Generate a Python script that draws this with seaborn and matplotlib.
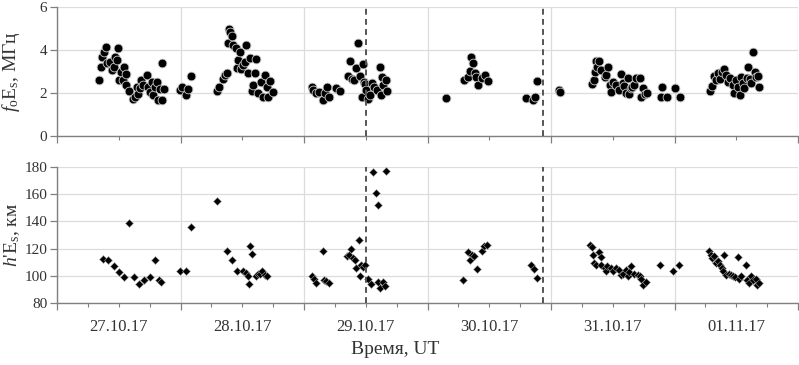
import matplotlib
matplotlib.use('Agg')
import matplotlib.pyplot as plt
import seaborn as sns
import pandas as pd
from matplotlib.ticker import FixedLocator, MultipleLocator

# ---------------- data (hours since 27.10.17 00 UT) ----------------
fo_hours = [8.2, 8.5, 8.8, 9.1, 9.5, 9.8, 10.3, 10.6, 11.1, 11.3, 11.6, 11.9, 12.1, 12.4, 12.9, 13.1,
            13.4, 13.5, 14.0, 14.7, 15.1, 15.5, 15.7, 16.1, 16.4, 16.8, 17.4, 17.7, 18.1, 18.4, 18.7,
            19.1, 19.5, 19.7, 20.0, 20.4, 20.5, 20.7, 23.9, 24.2, 25.0, 25.5, 26.0,
            31.0, 31.5, 32.2, 32.6, 33.1, 33.3, 33.5, 33.7, 34.0, 34.2, 34.7, 34.9, 35.2, 35.5, 35.8,
            36.2, 36.5, 36.7, 37.1, 37.5, 37.8, 38.1, 38.4, 38.6, 39.1, 39.7, 40.1, 40.4, 40.8, 41.0,
            41.4, 41.9,
            49.5, 49.8, 50.4, 50.9, 51.7, 52.0, 52.5, 52.9, 54.2, 55.0, 56.6, 57.0, 57.4, 57.8, 58.2,
            58.5, 58.8, 59.2, 59.4, 59.6, 59.8, 60.0, 60.4, 60.8, 61.3, 61.7, 62.2, 62.7, 63.0, 63.2,
            63.4, 63.9, 64.1,
            75.5, 79.0, 79.9, 80.2, 80.5, 80.8, 81.2, 81.5, 81.8, 82.5, 83.1, 83.7, 91.2, 92.5, 92.8,
            93.3, 97.5, 97.8,
            104.0, 104.3, 104.5, 104.7, 105.0, 105.3, 105.8, 106.4, 106.7, 107.0, 107.4, 107.6, 108.0,
            108.7, 109.2, 109.6, 109.9, 110.2, 110.6, 110.9, 111.2, 111.5, 111.8, 112.2, 112.6, 113.2,
            113.5, 113.8, 114.3, 114.6, 117.4, 117.6, 118.5, 120.0, 121.0,
            126.9, 127.3, 127.6, 128.0, 128.4, 128.8, 129.2, 129.7, 130.0, 130.3, 130.8, 131.3, 131.6,
            132.0, 132.3, 132.8, 133.0, 133.3, 133.6, 134.0, 134.2, 134.6, 134.9, 135.2, 135.6, 135.9,
            136.2, 136.5]
fo_values = [2.60, 3.20, 3.68, 3.92, 4.15, 3.38, 3.45, 3.05, 3.22, 3.68, 3.55, 4.08, 2.60, 3.00, 2.60, 3.22,
             2.90, 2.37, 2.10, 1.71, 1.83, 2.29, 1.95, 2.22, 2.60, 2.37, 2.84, 2.26, 2.06, 2.53, 1.93,
             2.29, 2.53, 1.67, 2.18, 1.67, 3.38, 2.20, 2.14, 2.30, 1.93, 2.18, 2.78,
             2.10, 2.26, 2.64, 2.84, 2.95, 4.34, 4.99, 4.82, 4.65, 4.23, 4.08, 3.15, 3.53, 3.92, 3.10,
             3.30, 3.45, 4.23, 2.95, 3.61, 2.10, 2.37, 2.92, 3.56, 1.99, 2.49, 1.81, 2.84, 2.30, 1.81,
             2.55, 2.06,
             2.26, 2.14, 2.00, 2.05, 1.67, 1.99, 2.26, 1.80, 2.22, 2.10, 2.78, 3.49, 2.64, 2.62, 3.15,
             4.31, 2.78, 1.80, 3.35, 2.53, 2.42, 2.14, 1.71, 1.93, 2.45, 2.26, 2.14, 3.22, 1.91, 2.76,
             2.37, 2.60, 2.10,
             1.79, 2.60, 2.73, 3.04, 3.67, 3.38, 2.95, 2.73, 2.37, 2.68, 2.84, 2.56, 1.79, 1.66, 1.82,
             2.56, 2.14, 2.05,
             2.43, 2.59, 2.98, 3.49, 3.20, 3.49, 3.05, 2.73, 2.84, 3.22, 2.37, 2.06, 2.53,
             2.37, 2.14, 2.88, 2.48, 2.33, 1.99, 2.68, 1.96, 2.22, 2.30, 2.37, 2.68, 2.71,
             1.82, 2.22, 1.96, 2.02, 1.82, 2.29, 1.82, 2.25, 1.82,
             2.10, 2.33, 2.79, 2.60, 2.92, 2.64, 2.99, 3.10, 2.84, 2.53, 2.68, 2.37, 1.99,
             2.60, 2.26, 1.91, 2.73, 2.45, 2.22, 2.70, 3.23, 2.66, 2.45, 3.91, 2.99, 2.73,
             2.78, 2.29]

h_hours = [9.0, 10.0, 11.0, 12.0, 13.0, 14.0, 15.0, 16.0, 17.0, 18.0, 19.0, 19.9, 20.3, 23.9, 25.0, 26.0,
           31.0, 33.0, 34.0, 34.9, 36.2, 36.7, 37.1, 37.3, 37.6, 37.9, 38.6, 39.0, 39.5, 39.9, 40.4, 40.8,
           49.5, 50.0, 50.4, 51.6, 51.8, 52.3, 52.8, 56.3, 56.8, 57.2, 57.5, 57.9, 58.2, 58.7, 58.8,
           59.1, 59.4, 59.8, 60.4, 61.0, 61.5, 61.9, 62.3, 62.3, 62.8, 63.4, 63.7, 63.9,
           78.9, 79.8, 80.2, 80.7, 81.1, 81.6, 82.6, 82.9, 83.6, 92.2, 92.6, 93.2,
           103.6, 104.0, 104.1, 104.3, 104.8, 105.4, 105.7, 105.7, 106.4, 106.6, 106.9, 107.7, 108.0,
           108.7, 109.3, 109.6, 109.9, 110.5, 110.9, 111.2, 111.6, 112.2, 112.9, 113.2, 113.5, 113.8,
           114.4, 117.1, 119.8, 120.8,
           126.7, 127.0, 127.3, 127.6, 128.0, 128.4, 128.9, 129.2, 129.5, 129.7, 130.1, 130.5, 130.9,
           131.3, 131.7, 132.3, 132.6, 133.0, 133.8, 134.0, 134.4, 134.9, 135.3, 135.8, 136.1, 136.5]
h_values = [112.3, 111.3, 106.9, 103.0, 99.1, 138.8, 99.1, 94.0, 97.1, 99.1, 111.8, 97.0, 95.2, 103.3, 103.3, 135.9,
            154.7, 118.0, 111.8, 103.3, 103.5, 102.0, 99.6, 94.2, 122.1, 116.0, 99.6, 101.6, 101.6, 103.3, 100.6, 99.6,
            100.1, 97.6, 94.7, 118.0, 96.6, 96.0, 94.7, 114.3, 115.5, 119.7, 113.0, 111.8, 105.7, 126.5, 100.1,
            107.7, 106.5, 108.2, 97.6, 94.2, 176.0, 160.9, 152.3, 95.2, 91.0, 95.2, 92.2, 176.8,
            97.1, 117.2, 111.3, 115.5, 114.3, 105.0, 118.0, 122.1, 122.9, 108.2, 105.0, 98.4,
            122.9, 121.2, 115.0, 109.4, 108.2, 117.2, 113.8, 108.0, 105.7, 103.3, 107.0, 105.7, 103.3,
            105.7, 104.5, 100.6, 101.6, 104.0, 99.6, 103.0, 107.4, 101.6, 100.6, 99.6, 98.0, 93.4,
            95.2, 108.2, 103.3, 108.2,
            118.5, 115.5, 113.1, 114.3, 109.4, 110.6, 108.2, 105.7, 103.3, 115.5, 100.6, 101.6, 100.6,
            99.6, 98.8, 113.8, 98.0, 99.6, 108.2, 97.1, 94.7, 99.6, 97.1, 98.0, 93.4, 94.7]

day_labels = ['27.10.17', '28.10.17', '29.10.17', '30.10.17', '31.10.17', '01.11.17']
event_hours = [60.0, 94.5]

# ---------------- style ----------------
sns.set_theme(style='white')
plt.rcParams['font.family'] = ['Liberation Serif', 'DejaVu Serif']
plt.rcParams['mathtext.fontset'] = 'custom'
plt.rcParams['mathtext.rm'] = 'Liberation Serif'
plt.rcParams['mathtext.it'] = 'Liberation Serif:italic'

df_fo = pd.DataFrame({'t': fo_hours, 'v': fo_values})
df_h = pd.DataFrame({'t': h_hours, 'v': h_values})

fig = plt.figure(figsize=(7.99, 3.65), dpi=100)
ax1 = fig.add_axes([57/799, 1 - 136/365, 741/799, 129/365])
ax2 = fig.add_axes([57/799, 1 - 303/365, 741/799, 136/365])

sns.scatterplot(data=df_fo, x='t', y='v', ax=ax1, color='black', s=40,
                edgecolor='#c8c8c8', linewidth=0.6, marker='o', zorder=3)
sns.scatterplot(data=df_h, x='t', y='v', ax=ax2, color='black', s=16,
                edgecolor='#a0a0a0', linewidth=0.4, marker='D', zorder=3)

grid_c = '#dcdcdc'
for ax in (ax1, ax2):
    ax.set_xlim(0, 144)
    ax.xaxis.set_major_locator(FixedLocator([24 * i for i in range(7)]))
    ax.grid(True, which='major', color=grid_c, linewidth=0.9)
    for side in ('top', 'right'):
        ax.spines[side].set_visible(False)
    for side in ('left', 'bottom'):
        ax.spines[side].set_color('#808080')
        ax.spines[side].set_linewidth(1.0)
    ax.tick_params(axis='both', which='major', direction='out', length=5, width=0.9,
                   color='#808080', labelsize=11, labelcolor='#333333', pad=2,
                   bottom=True, left=True)
    ax.tick_params(axis='x', which='minor', direction='out', length=3, width=0.8,
                   color='#808080', bottom=True)
    ax.set_xlabel('')
    for eh in event_hours:
        ax.axvline(eh, color='#555555', linestyle=(0, (3, 2.2)), linewidth=1.4, zorder=4)

ax1.set_ylim(0, 6)
ax1.yaxis.set_major_locator(MultipleLocator(2))
ax1.xaxis.set_minor_locator(FixedLocator([12 + 24 * i for i in range(6)]))
ax1.set_xticklabels([])
ax1.set_ylabel(r'$f_{\rm o}$E$_{\rm s}$, МГц', fontsize=14, color='#333333')
ax1.yaxis.set_label_coords(-0.047, 0.5)

ax2.set_ylim(80, 180)
ax2.yaxis.set_major_locator(MultipleLocator(20))
ax2.xaxis.set_minor_locator(FixedLocator([6 * i for i in range(25) if i % 4 != 0]))
ax2.set_xticklabels([])
for i, lab in enumerate(day_labels):
    ax2.text(12 + 24 * i, -0.12, lab, transform=ax2.get_xaxis_transform(),
             ha='center', va='top', fontsize=12, color='#333333')
ax2.set_ylabel(r"$h$'E$_{\rm s}$, км", fontsize=14, color='#333333')
ax2.yaxis.set_label_coords(-0.047, 0.5)
fig.text(395/799, 0.02, 'Время, UT', ha='center', va='bottom',
         fontsize=14, color='#333333')

fig.savefig('out.png', dpi=100)
